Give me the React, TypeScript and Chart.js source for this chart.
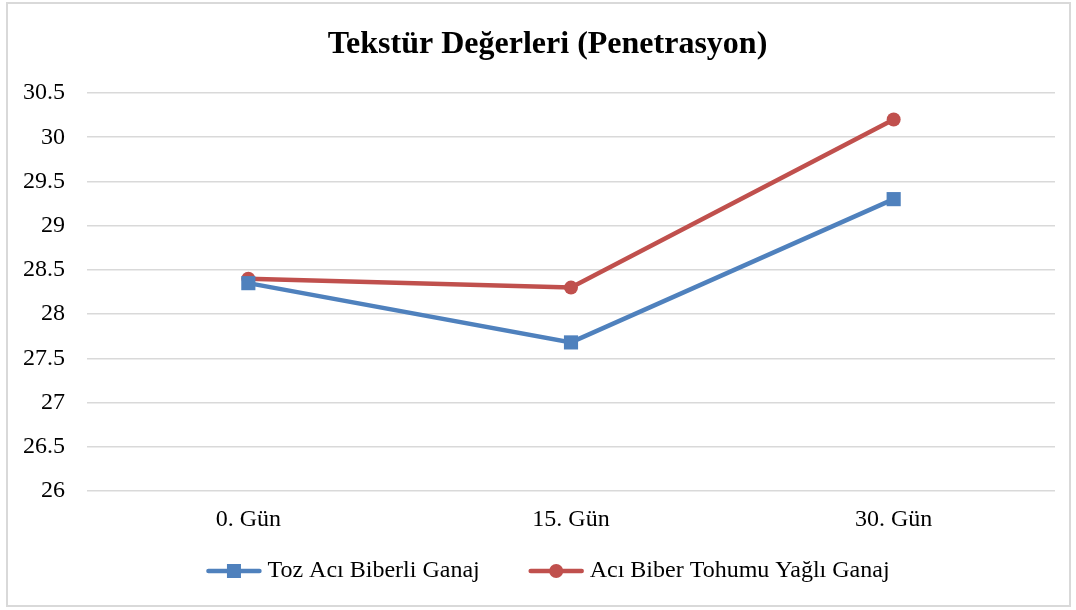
import React, { useEffect, useRef } from "react";
import { Chart, registerables } from "chart.js";

Chart.register(...registerables);

const titleText = "Tekstür Değerleri (Penetrasyon)";
const categories = ["0. Gün", "15. Gün", "30. Gün"];
const seriesNames = ["Toz Acı Biberli Ganaj", "Acı Biber Tohumu Yağlı Ganaj"];
const tozValues = [28.35, 27.68, 29.3];
const tohumValues = [28.4, 28.3, 30.2];
const yMin = 26;
const yMax = 30.5;
const yStep = 0.5;

const BLUE = "#4F81BD";
const RED = "#C0504D";
const FONT = "'Liberation Serif', 'Times New Roman', serif";

const frameTitleLegend = {
  id: "frameTitleLegend",
  beforeDraw(chart: any) {
    const ctx = chart.ctx;
    ctx.save();
    ctx.fillStyle = "#ffffff";
    ctx.fillRect(0, 0, chart.width, chart.height);
    ctx.strokeStyle = "#d9d9d9";
    ctx.lineWidth = 2;
    ctx.strokeRect(7, 3, 1063, 603);
    ctx.restore();
  },
  afterDraw(chart: any) {
    const ctx = chart.ctx;
    ctx.save();
    // title
    ctx.font = `bold 32px ${FONT}`;
    ctx.fillStyle = "#000000";
    ctx.textAlign = "center";
    ctx.textBaseline = "alphabetic";
    ctx.fillText(titleText, 547.5, 53);

    // legend
    ctx.font = `24px ${FONT}`;
    const lineLen = 55;
    const gap = 6;
    const itemGap = 49;
    const w1 = ctx.measureText(seriesNames[0]).width;
    const w2 = ctx.measureText(seriesNames[1]).width;
    const total = lineLen + gap + w1 + itemGap + lineLen + gap + w2;
    let x = 548 - total / 2;
    const y = 571;
    const items = [
      { name: seriesNames[0], color: BLUE, style: "rect", w: w1 },
      { name: seriesNames[1], color: RED, style: "circle", w: w2 },
    ];
    for (const it of items) {
      ctx.strokeStyle = it.color;
      ctx.lineWidth = 4.5;
      ctx.lineCap = "round";
      ctx.beginPath();
      ctx.moveTo(x + 2, y);
      ctx.lineTo(x + lineLen - 2, y);
      ctx.stroke();
      ctx.fillStyle = it.color;
      const cx = x + lineLen / 2;
      if (it.style === "rect") {
        ctx.fillRect(cx - 7, y - 7, 14, 14);
      } else {
        ctx.beginPath();
        ctx.arc(cx, y, 7, 0, Math.PI * 2);
        ctx.fill();
      }
      ctx.fillStyle = "#000000";
      ctx.textBaseline = "middle";
      ctx.textAlign = "left";
      ctx.fillText(it.name, x + lineLen + gap, y);
      x += lineLen + gap + it.w + itemGap;
    }
    ctx.restore();
  },
};

export default function App() {
  const ref = useRef<HTMLCanvasElement>(null);
  useEffect(() => {
    if (!ref.current) return;
    const chart = new Chart(ref.current, {
      type: "line",
      data: {
        labels: categories,
        datasets: [
          {
            label: seriesNames[0],
            data: tozValues,
            borderColor: BLUE,
            backgroundColor: BLUE,
            borderWidth: 4.5,
            pointStyle: "rect",
            pointRadius: 10,
            pointBorderWidth: 0,
            pointBackgroundColor: BLUE,
            tension: 0,
          },
          {
            label: seriesNames[1],
            data: tohumValues,
            borderColor: RED,
            backgroundColor: RED,
            borderWidth: 4.5,
            pointStyle: "circle",
            pointRadius: 7,
            pointBorderWidth: 0,
            pointBackgroundColor: RED,
            tension: 0,
          },
        ],
      },
      options: {
        responsive: false,
        animation: false,
        layout: { padding: { left: 0, right: 21, top: 93, bottom: 76 } },
        plugins: {
          legend: { display: false },
          tooltip: { enabled: false },
          title: { display: false },
        },
        scales: {
          x: {
            offset: true,
            grid: { display: false, drawTicks: false },
            border: { display: false },
            ticks: {
              color: "#000000",
              font: { family: FONT, size: 24 },
              padding: 14,
            },
            afterFit(scale: any) {
              scale.height = 43;
            },
          },
          y: {
            min: yMin,
            max: yMax,
            grid: { color: "#d9d9d9", lineWidth: 1.5, drawTicks: false },
            border: { display: false },
            ticks: {
              stepSize: yStep,
              color: "#000000",
              font: { family: FONT, size: 24 },
              padding: 22,
              callback: (v: any) => String(v),
            },
            afterFit(scale: any) {
              scale.width = 87;
            },
          },
        },
      },
      plugins: [frameTitleLegend],
    });
    return () => chart.destroy();
  }, []);
  return (
    <div style={{ position: "absolute", left: 0, top: 0, width: 1076, height: 610 }}>
      <canvas ref={ref} width={1076} height={610} style={{ display: "block" }} />
    </div>
  );
}
